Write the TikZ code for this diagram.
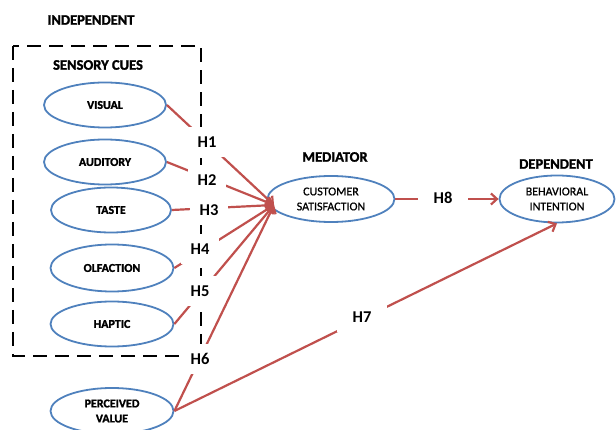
\documentclass[tikz,border=0pt]{standalone}
\usepackage{fontspec}
\setmainfont{Carlito}
\newfontfamily\heavy[BoldFeatures={FakeBold=1.6}]{Carlito}
\newfontfamily\medium[FakeBold=0.8]{Carlito}
\usetikzlibrary{shapes.geometric,arrows.meta}
\definecolor{ored}{HTML}{C0504D}
\definecolor{oblue}{HTML}{4F81BD}
\begin{document}
\begin{tikzpicture}[x=1pt,y=-1pt,
  ell/.style={ellipse, draw=oblue, line width=1.8pt, fill=white, inner sep=0pt,
    minimum width=122pt, minimum height=45pt,
    font=\fontsize{12}{15}\selectfont\heavy\bfseries, align=center},
  ellr/.style={ell, font=\fontsize{12}{15}\selectfont\medium},
  hdr/.style={font=\fontsize{14.5}{17}\selectfont\heavy\bfseries, inner sep=0pt},
  hyp/.style={fill=white, font=\fontsize{16.5}{18}\selectfont\bfseries,
    minimum width=38pt, minimum height=30pt, inner sep=0pt},
  rel/.style={draw=ored, line width=2.2pt, -{Straight Barb[length=6pt,width=11pt]}},
  grp/.style={draw=black, line width=2.2pt, dash pattern=on 14pt off 8pt}
]
\useasboundingbox (0,0) rectangle (616,430);

% group box
\draw[grp] (13,46) rectangle (201,356);

% headers
\node[hdr] (tind) at (91,20) {INDEPENDENT};
\node[hdr] (tsen) at (98,65) {SENSORY CUES};
\node[hdr] (tmed) at (335,157) {MEDIATOR};
\node[hdr] (tdep) at (556,164) {DEPENDENT};

% ellipses
\node[ell] (vis) at (105,105) {VISUAL};
\node[ell] (aud) at (105,162) {AUDITORY};
\node[ell, minimum width=120pt] (tas) at (111,210) {TASTE};
\node[ell, minimum width=123pt, minimum height=47pt] (olf) at (112,268) {OLFACTION};
\node[ell, minimum width=123pt] (hap) at (112,324) {HAPTIC};
\node[ell, minimum width=123pt, minimum height=46pt] (pv) at (112,411) {PERCEIVED\\VALUE};
\node[ellr, minimum width=127pt, minimum height=46pt] (cs) at (331,199) {CUSTOMER\\SATISFACTION};
\node[ellr, minimum width=115pt, minimum height=47pt] (bi) at (557,199) {BEHAVIORAL\\INTENTION};

% connectors
\coordinate (csin) at (274,205);
\draw[rel] (vis.east) -- (csin);
\draw[rel] (aud.east) -- (csin);
\draw[rel] (tas.east) -- (csin);
\draw[rel] (olf.east) -- (csin);
\draw[rel] (hap.east) -- (csin);
\draw[rel] (pv.east) -- (csin);
\draw[rel] (pv.east) -- (bi.south);
\draw[rel] (cs.east) -- (bi.west);

% hypothesis labels
\node[hyp] (h1) at (207,142) {H1};
\node[hyp] (h2) at (207,180) {H2};
\node[hyp] (h3) at (209,210) {H3};
\node[hyp] (h4) at (200,249) {H4};
\node[hyp] (h5) at (200,291) {H5};
\node[hyp] (h6) at (200,359) {H6};
\node[hyp, minimum width=50pt] (h7) at (362,317) {H7};
\node[hyp, minimum width=50pt] (h8) at (443,198) {H8};
\end{tikzpicture}
\end{document}
